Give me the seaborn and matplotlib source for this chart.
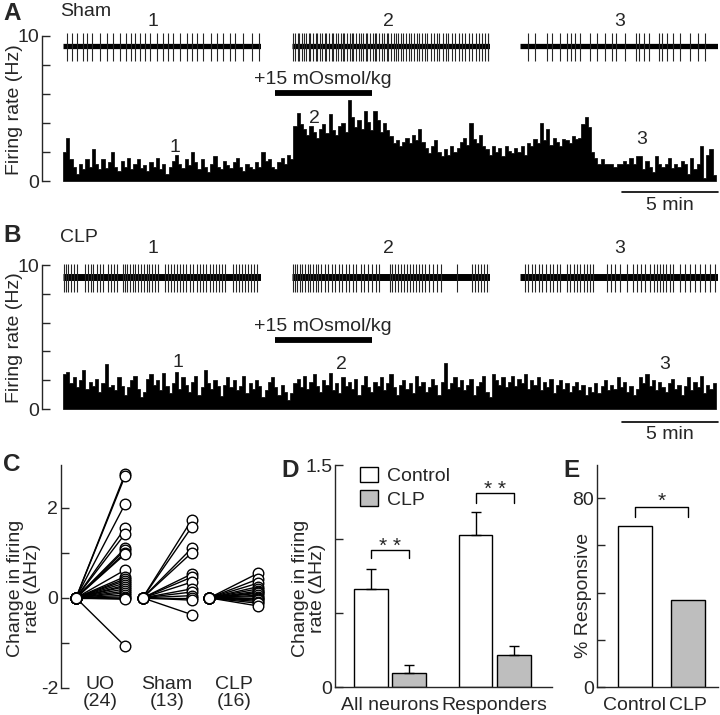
import numpy as np
import pandas as pd
import matplotlib
matplotlib.use("Agg")
import matplotlib.pyplot as plt
import seaborn as sns

# ---------------------------------------------------------------- data
bin_width_s = 10  # histogram bin (s)

sham_rate = [
    2.0, 3.0, 1.5, 1.0, 0.5, 1.2, 0.8, 1.5, 1.0, 2.2, 1.2, 0.8, 1.5, 0.9, 1.3, 2.0, 1.0, 0.7, 1.4, 1.0,
    1.6, 0.8, 1.2, 1.5, 0.9, 1.1, 0.7, 1.3, 1.0, 1.6, 0.8, 1.2, 0.5, 1.0, 1.4, 1.8, 1.2, 0.9, 1.5, 1.1,
    2.0, 1.3, 0.8, 1.5, 1.0, 0.6, 1.2, 1.7, 1.0, 0.8, 1.4, 1.1, 0.9, 1.3, 1.6, 1.0, 0.7, 1.2, 1.0, 0.8,
    1.3, 1.0, 2.0, 1.4, 1.5, 1.0, 0.8, 1.3, 1.6, 1.2, 1.8, 1.5,
    3.8, 4.7, 3.9, 3.6, 3.2, 3.8, 3.4, 3.0, 3.6, 3.9, 3.3, 4.6, 3.5, 3.2, 3.8, 4.0, 3.4, 5.6, 4.4, 3.7, 4.2,
    3.6, 4.8, 4.1, 3.5, 4.8, 4.2, 3.4, 4.0, 3.5, 3.1,
    2.6, 2.8, 2.4, 2.7,
    3.0, 2.6, 3.2, 2.8, 3.6, 2.7,
    2.3, 1.9, 2.4, 2.8, 2.0, 1.7, 2.2, 1.8, 2.4, 2.0, 2.3,
    2.7, 3.0, 2.5, 4.0, 2.9, 2.6, 3.2, 2.4,
    2.2, 1.8, 2.4, 2.0, 2.3, 1.7, 2.4, 2.1, 1.9, 2.3, 2.0, 2.4, 1.8,
    2.6, 2.4, 2.9, 2.6, 4.0, 2.8, 3.6, 2.5, 3.0, 2.7, 2.4, 2.9, 2.8, 2.6, 3.1, 2.9, 3.0,
    3.9, 4.4, 3.7,
    2.0, 1.6, 1.2, 1.5,
    1.2, 1.2, 1.2, 1.0, 1.2, 1.2, 1.4, 1.2,
    1.6, 1.2, 1.7, 1.7, 0.8, 1.4, 1.0, 0.6, 1.7, 1.2, 1.0, 1.2, 1.6, 0.9, 1.2, 1.0, 1.4, 1.2, 0.5, 1.6,
    0.8, 1.2, 2.4, 0.2, 1.8, 2.2, 0.4,
]

clp_rate = [
    2.4, 2.6, 1.8, 2.2, 1.5, 2.0, 2.7, 1.4, 1.9, 1.6, 2.1, 1.2, 1.8, 3.1, 1.5, 1.7, 1.3, 2.2, 1.6, 1.0,
    1.5, 2.0, 2.3, 1.4, 0.8, 1.2, 2.1, 2.4, 1.7, 2.0, 1.3, 2.5, 1.6, 1.1, 1.8, 2.6, 1.4, 2.2, 1.7, 1.2,
    1.9, 2.3, 1.0, 1.5, 2.7, 1.8, 1.4, 2.0, 1.6, 0.9, 1.7, 2.2, 1.5, 2.0, 1.3, 1.6, 2.3, 1.1, 1.8, 1.4,
    2.0, 1.6, 0.8, 1.3, 1.9, 2.2, 1.5, 1.0, 1.7, 1.2, 0.6, 1.1, 1.8, 2.1, 1.5, 2.3, 1.4, 1.9, 2.4, 1.6,
    1.2, 2.0, 1.7, 2.5, 1.3, 1.8, 1.1, 2.2, 1.6, 1.9, 1.4, 2.1, 1.0, 1.7, 2.3, 1.5, 1.2, 1.9, 1.6, 2.2,
    1.3, 1.8, 2.4, 1.5, 1.0, 1.7, 2.0, 1.4, 1.8, 1.1, 2.3, 1.6, 1.9, 1.2, 1.5, 2.1, 1.7, 1.0, 1.9, 3.2,
    1.4, 1.8, 2.2, 1.5, 2.0, 1.3, 1.7, 2.1, 1.0, 1.6, 1.9, 2.3, 1.2, 0.8, 2.4, 2.0, 1.7, 2.2, 1.5, 1.9,
    2.3, 1.6, 2.1, 1.8, 2.4, 1.4, 2.0, 1.7, 2.2, 1.3, 1.9, 1.5, 2.1, 1.1, 1.7, 2.0, 1.4, 1.8, 1.2, 1.6,
    1.9, 1.3, 1.7, 1.0, 1.5, 1.2, 1.8, 1.1, 1.6, 2.0, 1.3, 1.7, 1.4, 2.2, 1.5, 1.9, 1.2, 1.6, 1.0, 1.4,
    2.2, 1.8, 2.4, 1.6, 2.0, 1.3, 1.9, 1.5, 1.2, 1.8, 2.1, 1.4, 1.7, 1.0, 1.6, 2.2, 1.3, 1.9, 1.5, 2.3,
    1.1, 1.7, 1.4, 1.8,
]

# spike times inside each recording excerpt (arbitrary units 0-198)
sham_spikes_1 = [4, 9, 14, 20, 24, 29, 37, 44, 50, 57, 63, 68, 72, 77, 82, 87, 94, 100, 105, 110,
                 117, 124, 129, 134, 140, 148, 154, 160, 167, 172, 180, 189, 196]
sham_spikes_2 = [1, 3, 6, 7, 10, 12, 14, 17, 18, 21, 24, 25, 28, 30, 33, 34, 37, 40, 41, 44, 46, 49,
                 51, 52, 55, 58, 60, 61, 64, 67, 69, 71, 74, 75, 78, 81, 83, 84, 87, 90, 92, 95, 96,
                 99, 102, 104, 106, 109, 111, 114, 117, 119, 122, 125, 127, 130, 133, 135, 139, 142,
                 145, 147, 151, 154, 156, 160, 163, 167, 170, 173, 177, 180, 184, 187, 190, 193, 196, 198]
sham_spikes_3 = [8, 15, 27, 32, 40, 47, 51, 55, 60, 70, 77, 85, 92, 96, 105, 116, 119, 124, 129,
                 139, 142, 147, 153, 160, 170, 178, 185]
clp_spikes_1 = [1, 3, 5, 8, 11, 14, 22, 25, 28, 30, 34, 37, 40, 45, 48, 51, 54, 60, 62, 64, 67, 70,
                72, 75, 78, 81, 84, 86, 89, 92, 95, 102, 105, 108, 111, 114, 117, 120, 123, 127, 130,
                134, 137, 140, 143, 147, 150, 153, 156, 159, 162, 170, 173, 176, 179, 182, 185, 188,
                191, 194]
clp_spikes_2 = [1, 3, 5, 8, 10, 13, 16, 18, 21, 24, 26, 29, 33, 36, 40, 43, 47, 50, 54, 57, 61, 64,
                69, 72, 76, 80, 84, 87, 98, 100, 103, 106, 109, 112, 115, 118, 121, 124, 127, 130,
                133, 137, 141, 145, 149, 165, 180, 183, 186, 189, 192, 195, 198]
clp_spikes_3 = [5, 8, 12, 15, 19, 22, 26, 30, 33, 37, 40, 47, 50, 54, 57, 60, 64, 67, 70, 73, 87,
                91, 95, 100, 107, 113, 117, 121, 125, 130, 134, 137, 140, 143, 146, 150, 153, 160,
                165, 170, 175, 180, 185, 190, 195]

# panel C: change in firing rate (ΔHz) per neuron
c_groups = ["UO", "Sham", "CLP"]
c_group_n = [24, 13, 16]
uo_change = [2.75, 2.70, 2.08, 1.55, 1.42, 1.10, 1.06, 1.00, 0.97, 0.62, 0.47, 0.42, 0.38, 0.33,
             0.28, 0.25, 0.20, 0.15, 0.11, 0.06, 0.02, 0.00, -0.03, -1.07]
sham_change = [1.73, 1.57, 1.10, 1.00, 0.53, 0.46, 0.35, 0.20, 0.13, 0.05, 0.00, -0.05, -0.37]
clp_change = [0.55, 0.42, 0.33, 0.25, 0.20, 0.15, 0.12, 0.10, 0.06, 0.03, 0.0, -0.02, -0.05,
              -0.08, -0.12, -0.18]

# panel D
d_groups = ["All neurons", "Responders"]
d_conditions = ["Control", "CLP"]
d_control_mean = [0.66, 1.03]
d_control_sem = [0.14, 0.15]
d_clp_mean = [0.094, 0.214]
d_clp_sem = [0.052, 0.066]

# panel E
e_conditions = ["Control", "CLP"]
e_percent = [68, 37]

# ---------------------------------------------------------------- style
sns.set_style("ticks")
plt.rcParams["font.family"] = ["Liberation Sans", "DejaVu Sans"]
plt.rcParams["font.size"] = 14
plt.rcParams["axes.linewidth"] = 1.0

W, H = 720, 715
fig = plt.figure(figsize=(W / 100, H / 100), dpi=100)


def px_box(l, t, r, b):
    return [l / W, 1 - b / H, (r - l) / W, (b - t) / H]


def ftext(x, y, s, **kw):
    fig.text(x / W, 1 - y / H, s, **kw)


WHITE = "white"
GRAY = "#bebebe"
FS = 14


def style_left_axis(ax):
    sns.despine(ax=ax, bottom=True)
    ax.set_xticks([])
    ax.tick_params(axis="y", direction="in", length=6, width=1, pad=2, labelsize=FS)
    ax.set_xlabel("")
    ax.set_ylabel("")


# ---------------------------------------------------------------- A / B
def rate_panel(box, rates):
    ax = fig.add_axes(px_box(*box))
    n = len(rates)
    centers = (np.arange(n) + 0.5) * bin_width_s
    df = pd.DataFrame({"t": centers, "rate": rates})
    sns.histplot(data=df, x="t", weights="rate", bins=n, binrange=(0, n * bin_width_s),
                 element="step", fill=True, color="black", alpha=1, linewidth=0.5, ax=ax)
    ax.set_xlim(-65.6, 2047)
    ax.set_ylim(0, 10)
    ax.set_yticks([0, 2, 4, 6, 8, 10])
    ax.set_yticklabels(["0", "", "", "", "", "10"])
    style_left_axis(ax)
    ax.patch.set_alpha(0)
    return ax


def trace_panel(box, spikes, base_lw, label, label_x, label_y):
    ax = fig.add_axes(px_box(*box))
    ax.hlines(0, 0, 198, color="black", lw=base_lw)
    ax.vlines(spikes, -15, 13, color="#262626", lw=0.8)
    ax.set_xlim(0, 198)
    ax.set_ylim(-16, 16)
    ax.axis("off")
    ax.text(label_x, label_y, label, ha="center", va="center", fontsize=FS, clip_on=False)


def drug_and_scale(ax, bar_y, text_y, scale_y, scale_text_y):
    ax.plot([662, 966], [bar_y, bar_y], color="black", lw=4.2, solid_capstyle="butt", clip_on=False)
    ax.text(812, text_y, "+15 mOsmol/kg", ha="center", va="center", fontsize=FS)
    ax.plot([1747, 2047], [scale_y, scale_y], color="black", lw=1.2, clip_on=False)
    ax.text(1897, scale_text_y, "5 min", ha="center", va="center", fontsize=FS, clip_on=False)


axA = rate_panel((42, 36, 718, 181), sham_rate)
drug_and_scale(axA, 6.07, 7.03, -0.76, -1.66)
axA.text(350, 2.34, "1", ha="center", va="center", fontsize=FS)
axA.text(787, 4.34, "2", ha="center", va="center", fontsize=FS)
axA.text(1809, 2.83, "3", ha="center", va="center", fontsize=FS)
trace_panel((63, 30, 261, 62), sham_spikes_1, 3.8, "1", 90, 25)
trace_panel((292, 30, 490, 62), sham_spikes_2, 3.8, "2", 96, 25)
trace_panel((520, 30, 718, 62), sham_spikes_3, 3.8, "3", 100, 25)

axB = rate_panel((42, 265, 718, 409), clp_rate)
drug_and_scale(axB, 4.79, 5.76, -0.9, -1.8)
axB.text(359, 3.26, "1", ha="center", va="center", fontsize=FS)
axB.text(869, 3.06, "2", ha="center", va="center", fontsize=FS)
axB.text(1881, 3.06, "3", ha="center", va="center", fontsize=FS)
trace_panel((63, 261, 261, 293), clp_spikes_1, 5.0, "1", 90, 29)
trace_panel((292, 261, 490, 293), clp_spikes_2, 5.0, "2", 96, 29)
trace_panel((520, 261, 718, 293), clp_spikes_3, 5.0, "3", 100, 29)

ftext(3, 2, "A", fontsize=17.5, fontweight="bold", va="top", ha="left")
ftext(60, 11, "Sham", va="center", ha="left", fontsize=FS)
ftext(15, 110, "Firing rate (Hz)", rotation=90, va="center", ha="center", fontsize=FS)
ftext(3, 224, "B", fontsize=17.5, fontweight="bold", va="top", ha="left")
ftext(60, 238, "CLP", va="center", ha="left", fontsize=FS)
ftext(15, 338, "Firing rate (Hz)", rotation=90, va="center", ha="center", fontsize=FS)

# ---------------------------------------------------------------- C
group_gap = 1.36
rows = []
for gi, (g, vals) in enumerate(zip(c_groups, [uo_change, sham_change, clp_change])):
    for ci, v in enumerate(vals):
        rows.append({"group": g, "cell": f"{g}{ci}", "x": gi * group_gap, "y": 0.0})
        rows.append({"group": g, "cell": f"{g}{ci}", "x": gi * group_gap + 1, "y": v})
df_c = pd.DataFrame(rows)

axC = fig.add_axes(px_box(61, 465, 265, 688))
sns.lineplot(data=df_c, x="x", y="y", units="cell", estimator=None, color="black",
             lw=1.0, ax=axC, legend=False)
sns.scatterplot(data=df_c, x="x", y="y", color="white", edgecolor="black", linewidth=1.0,
                s=58, zorder=3, ax=axC, legend=False)
axC.set_xlim(-0.306, 3.857)
axC.set_ylim(-2, 2.95)
axC.set_yticks([-2, -1, 0, 1, 2])
axC.set_yticklabels(["-2", "", "0", "", "2"])
style_left_axis(axC)
for gi, (g, n) in enumerate(zip(c_groups, c_group_n)):
    axC.text(gi * group_gap + 0.5, -1.93, g, ha="center", va="center", fontsize=FS, clip_on=False)
    axC.text(gi * group_gap + 0.5, -2.31, f"({n})", ha="center", va="center", fontsize=FS, clip_on=False)
ftext(3, 453, "C", fontsize=17.5, fontweight="bold", va="top", ha="left")
ftext(24, 588, "Change in firing\nrate (ΔHz)", rotation=90, va="center", ha="center",
      fontsize=FS, linespacing=1.0)

# ---------------------------------------------------------------- D
df_d = pd.DataFrame({
    "group": d_groups * 2,
    "condition": [d_conditions[0]] * 2 + [d_conditions[1]] * 2,
    "value": d_control_mean + d_clp_mean,
    "sem": d_control_sem + d_clp_sem,
})
axD = fig.add_axes(px_box(335, 465, 552, 687))
sns.barplot(data=df_d, x="group", y="value", hue="condition", hue_order=d_conditions,
            order=d_groups, palette={"Control": WHITE, "CLP": GRAY}, saturation=1,
            edgecolor="black", linewidth=1.0, width=0.73, gap=0.12, errorbar=None, ax=axD)
bar_pos = {}
for p in axD.patches:
    h = p.get_height()
    if p.get_width() <= 0 or p.get_width() > 1:
        continue
    xc = p.get_x() + p.get_width() / 2
    match = df_d.iloc[(df_d["value"] - h).abs().argsort().iloc[0]]
    bar_pos[(match["group"], match["condition"])] = xc
    axD.errorbar([xc], [h], yerr=[[0], [match["sem"]]], fmt="none", ecolor="black",
                 elinewidth=1.0, capsize=3.6, capthick=1.0, zorder=1)
leg = axD.get_legend()
if leg is not None:
    leg.remove()
handles, labels = axD.get_legend_handles_labels()
axD.legend(handles, labels, loc="upper left", bbox_to_anchor=(0.105, 1.0), frameon=False,
           fontsize=FS, handlelength=0.95, handleheight=0.85, handletextpad=0.45,
           labelspacing=0.25, borderpad=0.1, borderaxespad=0)
axD.set_xlim(-0.525, 1.546)
axD.set_ylim(0, 1.5)
axD.set_yticks([0, 0.5, 1.0, 1.5])
axD.set_yticklabels(["0", "", "", "1.5"])
sns.despine(ax=axD)
axD.tick_params(axis="y", direction="in", length=6, width=1, pad=2, labelsize=FS)
axD.tick_params(axis="x", length=0, pad=7, labelsize=FS)
axD.set_xlabel("")
axD.set_ylabel("")


def bracket(ax, x1, x2, y, d, label, star_y):
    ax.plot([x1, x1, x2, x2], [y - d, y, y, y - d], color="black", lw=1.0, clip_on=False)
    ax.text((x1 + x2) / 2, star_y, label, ha="center", va="center", fontsize=FS + 1, clip_on=False)


bracket(axD, bar_pos[("All neurons", "Control")], bar_pos[("All neurons", "CLP")], 0.925, 0.055,
        "* *", 0.95)
bracket(axD, bar_pos[("Responders", "Control")], bar_pos[("Responders", "CLP")], 1.31, 0.065,
        "* *", 1.335)
ftext(281, 459, "D", fontsize=17.5, fontweight="bold", va="top", ha="left")
ftext(309, 588, "Change in firing\nrate (ΔHz)", rotation=90, va="center", ha="center",
      fontsize=FS, linespacing=1.0)

# ---------------------------------------------------------------- E
df_e = pd.DataFrame({"condition": e_conditions, "percent": e_percent})
axE = fig.add_axes(px_box(597, 465, 718, 687))
sns.barplot(data=df_e, x="condition", y="percent", hue="condition", order=e_conditions,
            palette={"Control": WHITE, "CLP": GRAY}, saturation=1, edgecolor="black",
            linewidth=1.0, width=0.64, legend=False, ax=axE)
e_pos = {}
for p in axE.patches:
    if p.get_width() <= 0:
        continue
    h = p.get_height()
    idx = int(np.argmin([abs(h - v) for v in e_percent]))
    e_pos[e_conditions[idx]] = p.get_x() + p.get_width() / 2
axE.set_xlim(-0.717, 1.57)
axE.set_ylim(0, 94)
axE.set_yticks([0, 20, 40, 60, 80])
axE.set_yticklabels(["0", "", "", "", "80"])
sns.despine(ax=axE)
axE.tick_params(axis="y", direction="in", length=6, width=1, pad=2, labelsize=FS)
axE.tick_params(axis="x", length=0, pad=7, labelsize=FS)
axE.set_xlabel("")
axE.set_ylabel("")
bracket(axE, e_pos["Control"], e_pos["CLP"], 76.2, 4.3, "*", 78.5)
ftext(563, 459, "E", fontsize=17.5, fontweight="bold", va="top", ha="left")
ftext(583, 595, "% Responsive", rotation=90, va="center", ha="center", fontsize=FS)

fig.savefig("out.png", dpi=100)
